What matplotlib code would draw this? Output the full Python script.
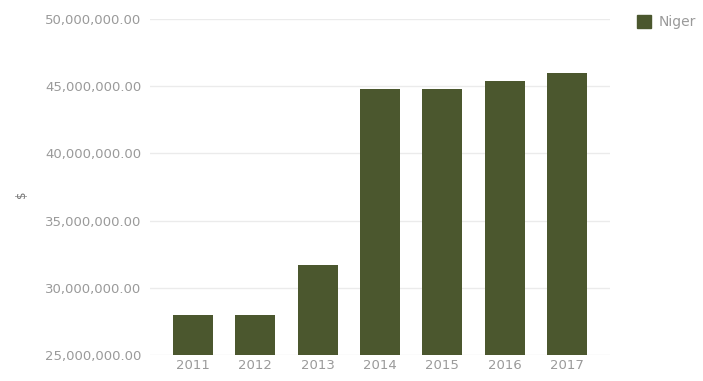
import matplotlib
matplotlib.use("Agg")
import matplotlib.pyplot as plt
from matplotlib.ticker import FuncFormatter
from matplotlib.patches import Patch

years = ["2011", "2012", "2013", "2014", "2015", "2016", "2017"]
values = [28.0e6, 28.0e6, 31.7e6, 44.8e6, 44.8e6, 45.4e6, 46.0e6]
yticks = [25e6, 30e6, 35e6, 40e6, 45e6, 50e6]
series_name = "Niger"

bar_color = "#4b572e"
text_color = "#9a9a9a"

fig = plt.figure(figsize=(7.03, 3.81), dpi=100)
ax = fig.add_axes([0.213, 0.068, 0.655, 0.882])

x = list(range(len(years)))
ax.bar(x, [v - yticks[0] for v in values], bottom=yticks[0], width=0.64,
       color=bar_color, zorder=3)

ax.set_ylim(yticks[0], yticks[-1])
ax.set_xlim(-0.69, len(years) - 1 + 0.69)
ax.set_yticks(yticks)
ax.yaxis.set_major_formatter(FuncFormatter(lambda v, p: f"{v:,.2f}"))
ax.set_xticks(x)
ax.set_xticklabels(years)
ax.grid(axis="y", color="#ebebeb", linewidth=1, zorder=0)
for s in ax.spines.values():
    s.set_visible(False)
ax.tick_params(axis="both", length=0, colors=text_color, labelsize=9.5)
ax.tick_params(axis="y", pad=6)
ax.tick_params(axis="x", pad=3)

fig.text(0.03, 0.49, "$", rotation=90, color="#777777", fontsize=8.5,
         ha="center", va="center")

leg = fig.legend(handles=[Patch(color=bar_color, label=series_name)],
                 loc="upper left", bbox_to_anchor=(0.898, 0.975), frameon=False,
                 fontsize=10, handlelength=1.0, handleheight=1.0,
                 handletextpad=0.6, borderaxespad=0)
for t in leg.get_texts():
    t.set_color(text_color)

fig.savefig("out.png", dpi=100)
